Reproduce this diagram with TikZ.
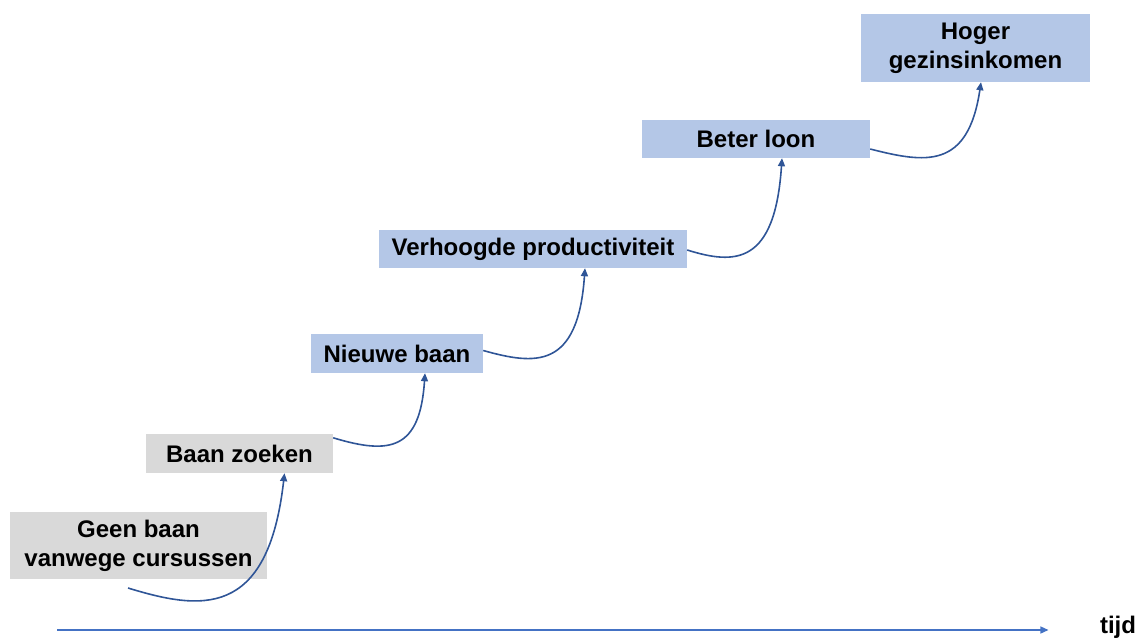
\documentclass[tikz,border=0pt]{standalone}
\usepackage{fontspec}
\setmainfont{Liberation Sans}
\usetikzlibrary{calc,arrows.meta}
\definecolor{boxgray}{HTML}{D9D9D9}
\definecolor{boxblue}{HTML}{B4C7E7}
\definecolor{linkblue}{HTML}{2F5597}
\definecolor{axisblue}{HTML}{4472C4}
\begin{document}
\begin{tikzpicture}[x=1pt,y=-1pt,
  stepbox/.style={inner sep=0pt,font=\bfseries\fontsize{24}{29}\selectfont,align=center},
  graybox/.style={stepbox,fill=boxgray},
  bluebox/.style={stepbox,fill=boxblue},
  link/.style={draw=linkblue,line width=1.6pt,-{Triangle[length=8pt,width=7pt]}}]
\useasboundingbox (0,0) rectangle (1138,638);
\node[graybox,minimum width=257pt,minimum height=67pt] (g) at (138.5,545.5) {Geen baan\\vanwege cursussen};
\node[graybox,minimum width=187pt,minimum height=39pt] (z) at (239.5,453.5) {Baan zoeken};
\node[bluebox,minimum width=172pt,minimum height=39pt] (n) at (397,353.5) {Nieuwe baan};
\node[bluebox,minimum width=308pt,minimum height=38pt] (v) at (533,249) {Verhoogde productiviteit};
\node[bluebox,minimum width=228pt,minimum height=38pt] (b) at (756,139) {Beter loon};
\node[bluebox,minimum width=229pt,minimum height=68pt] (h) at (975.5,48) {Hoger\\gezinsinkomen};
\coordinate (g0) at (128,588);
\draw[link] (g0) .. controls (200,610) and (268,620) .. ($(z.south)+(45,0)$);
\draw[link] ($(z.north east)+(0,4)$) .. controls (390,455) and (420,450) .. ($(n.south)+(28,0)$);
\draw[link] ($(n.east)+(0,-3)$) .. controls (535,365) and (578,370) .. ($(v.south)+(52,0)$);
\draw[link] ($(v.east)+(0,1)$) .. controls (735,265) and (775,265) .. ($(b.south)+(26,0)$);
\draw[link] ($(b.east)+(0,10)$) .. controls (925,163) and (968,170) .. ($(h.south)+(5.5,0)$);
\coordinate (t0) at (57,630);
\node[font=\bfseries\fontsize{24}{29}\selectfont] (t) at (1118,627) {tijd};
\draw[draw=axisblue,line width=1.3pt,-{Triangle[length=8pt,width=7pt]}] (t0) -- ($(t.west)+(-48,3)$);
\end{tikzpicture}
\end{document}
